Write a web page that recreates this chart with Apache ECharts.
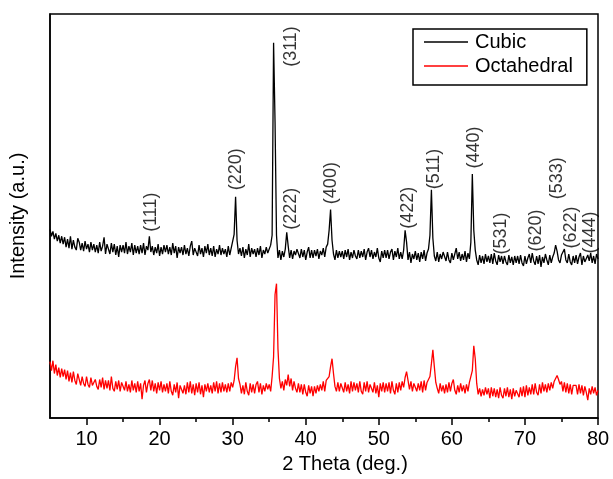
<!DOCTYPE html>
<html>
<head>
<meta charset="utf-8">
<script src="https://cdn.jsdelivr.net/npm/echarts@6/dist/echarts.min.js"></script>
<style>
html,body{margin:0;padding:0;background:#fff;}
#chart{width:613px;height:479px;}
</style>
</head>
<body>
<div id="chart"></div>
<script>
// Sampling grid of the diffractogram (2 theta, degrees)
const angleStart = 5;
const angleStep = 0.2;

// Cubic sample intensity (a.u.), one value per 0.2 deg from 5 to 80
const cubic = [
  191,184,189,181,187,179,185,177,184,176,
  183,173,181,172,184,171,180,173,170,182,
  178,170,177,169,179,171,176,168,178,170,
  176,168,175,167,178,169,174,183,166,176,
  175,166,177,168,176,165,174,163,175,168,
  175,167,178,166,174,168,177,165,175,167,
  174,166,175,167,177,165,174,170,184,168,
  174,165,173,167,176,164,173,166,175,168,
  175,166,173,165,177,167,174,162,173,167,
  173,165,175,166,172,164,174,179,165,172,
  173,164,175,166,172,163,174,167,176,165,
  172,164,174,163,171,166,175,165,172,166,
  171,163,174,165,172,170,186,224,180,166,
  172,164,173,162,171,165,176,163,172,166,
  171,163,172,165,174,162,170,166,173,167,
  168,175,185,380,300,185,162,170,160,169,
  163,171,188,174,162,170,161,169,165,171,
  170,162,171,163,170,160,168,173,162,170,
  162,170,164,171,161,169,165,172,163,173,
  176,190,211,180,166,160,170,162,169,163,
  169,161,170,163,171,160,168,162,170,164,
  161,170,162,169,163,171,160,168,172,163,
  170,161,168,163,172,162,158,169,162,170,
  162,170,161,168,171,160,169,163,172,161,
  168,161,170,190,178,160,168,157,166,161,
  169,160,167,158,168,161,170,159,167,171,
  185,231,182,164,159,168,158,166,161,168,
  167,159,168,160,157,167,160,166,172,161,
  168,159,166,160,169,158,167,161,178,247,
  190,170,160,155,165,157,164,156,166,158,
  164,157,166,156,167,159,155,165,158,164,
  156,164,158,155,165,157,163,155,164,157,
  164,156,165,157,154,164,156,162,166,157,
  167,159,155,164,156,165,153,163,157,166,
  160,155,165,157,163,167,175,169,160,157,
  165,168,171,160,157,166,158,155,164,157,
  165,156,163,167,155,164,158,156,165,159,
  167,157,164,156,166,161
];

// Octahedral sample intensity (a.u.)
const octahedral = [
  57,48,58,45,54,43,51,41,50,42,
  49,39,48,37,46,36,47,38,34,45,
  43,33,42,35,32,42,34,31,41,33,
  36,39,32,29,39,31,41,29,38,30,
  38,28,42,30,27,37,29,38,27,36,
  35,28,37,27,34,26,38,28,35,26,
  37,27,35,19,33,38,26,35,39,28,
  38,27,35,25,36,28,37,26,34,27,
  35,25,37,27,23,34,26,36,20,33,
  35,25,33,24,36,26,37,25,34,23,
  35,26,36,24,33,21,34,27,35,26,
  33,25,36,27,37,25,35,26,36,27,
  34,26,35,27,36,31,38,52,61,40,
  34,25,33,24,36,27,23,35,26,34,
  25,34,37,26,35,24,33,27,35,29,
  34,27,42,62,125,136,70,40,30,37,
  28,39,33,44,32,40,28,37,30,26,
  35,26,34,24,34,26,22,33,25,32,
  22,32,25,33,27,34,28,37,27,38,
  37,42,52,60,45,32,27,36,27,35,
  35,26,36,27,34,25,37,27,36,28,
  35,26,37,27,24,36,27,37,26,34,
  34,26,36,25,33,21,35,27,36,26,
  35,27,36,25,37,28,24,35,26,36,
  28,37,31,41,47,38,29,37,27,35,
  36,27,35,28,37,26,38,28,36,39,
  42,55,69,52,36,30,25,35,27,33,
  25,34,26,36,27,35,39,28,24,33,
  26,35,27,33,25,34,27,36,38,48,
  73,60,35,24,30,22,29,23,31,24,
  30,20,31,22,30,21,29,20,31,23,
  20,30,22,31,21,29,19,30,22,28,
  30,21,31,22,32,21,33,23,31,24,
  34,24,35,26,23,34,25,36,27,34,
  26,35,28,36,30,37,40,43,39,34,
  37,27,36,26,35,25,34,24,33,35,
  33,24,34,25,33,23,32,26,18,30,
  24,32,25,31,23,28
];

// Axis ticks
const xTickValues = [10, 20, 30, 40, 50, 60, 70, 80];
const xMinorTickValues = [15, 25, 35, 45, 55, 65, 75];

// Miller-index labels of the cubic pattern
const peakLabels = ['(111)','(220)','(311)','(222)','(400)','(422)','(511)','(440)','(531)','(620)','(533)','(622)','(444)'];
const peakLabelAngles = [18.86, 30.58, 38.04, 38.04, 43.58, 54.06, 57.67, 63.04, 66.83, 71.62, 74.49, 76.37, 78.95];
const peakLabelBases = [188, 230, 355, 190, 216, 191, 231, 252, 165, 168, 221, 171, 166];

const seriesNames = ['Cubic', 'Octahedral'];

function toPairs(values) {
  return values.map((v, i) => [Math.round((angleStart + i * angleStep) * 10) / 10, v]);
}

const FONT = '"Liberation Sans", Arial, sans-serif';
const chart = echarts.init(document.getElementById('chart'), null, {renderer: 'canvas'});

const option = {
  animation: false,
  textStyle: {fontFamily: FONT, color: '#000'},
  grid: {left: 50, right: 15, top: 14, bottom: 56, show: true, borderColor: '#000', borderWidth: 1.5},
  legend: {
    data: seriesNames,
    orient: 'vertical',
    left: 413,
    top: 29,
    padding: [3, 14, 9, 11],
    itemGap: 4,
    itemWidth: 44,
    itemHeight: 1.5,
    icon: 'rect',
    borderColor: '#000',
    borderWidth: 1.5,
    textStyle: {fontSize: 20, color: '#000', fontFamily: FONT, padding: [0, 0, 0, 2]}
  },
  xAxis: [{
    type: 'value', min: 5, max: 80,
    name: '2 Theta (deg.)', nameLocation: 'middle', nameGap: 36,
    nameTextStyle: {fontSize: 20, color: '#000', fontFamily: FONT, padding: [0, 0, 0, 42]},
    axisLine: {lineStyle: {color: '#000', width: 1.5}},
    axisTick: {show: true, customValues: xTickValues, length: 7, lineStyle: {color: '#000', width: 1.5}},
    axisLabel: {customValues: xTickValues, fontSize: 20, color: '#000', fontFamily: FONT, margin: 11},
    splitLine: {show: false}
  }, {
    type: 'value', min: 5, max: 80, position: 'bottom', gridIndex: 0,
    axisLine: {show: false},
    axisTick: {show: true, customValues: xMinorTickValues, length: 4, lineStyle: {color: '#000', width: 1.5}},
    axisLabel: {show: false},
    splitLine: {show: false}
  }],
  yAxis: {
    type: 'value', min: 0, max: 409,
    name: 'Intensity (a.u.)', nameLocation: 'middle', nameGap: 22,
    nameTextStyle: {fontSize: 20, color: '#000', fontFamily: FONT},
    axisLine: {show: true, lineStyle: {color: '#000', width: 1.5}},
    axisTick: {show: false},
    axisLabel: {show: false},
    splitLine: {show: false}
  },
  series: [{
    name: seriesNames[0], type: 'line', data: toPairs(cubic),
    symbol: 'none', showSymbol: false,
    lineStyle: {color: '#000', width: 1.3}, itemStyle: {color: '#000'}
  }, {
    name: seriesNames[1], type: 'line', data: toPairs(octahedral),
    symbol: 'none', showSymbol: false,
    lineStyle: {color: '#ff0000', width: 1.3}, itemStyle: {color: '#ff0000'}
  }, {
    name: 'labels', type: 'scatter', silent: true,
    symbolSize: 1, itemStyle: {color: 'rgba(0,0,0,0)'},
    data: peakLabels.map((t, i) => ({name: t, value: [peakLabelAngles[i], peakLabelBases[i]]})),
    label: {
      show: true, formatter: '{b}', position: [0, 0], rotate: 90,
      align: 'left', verticalAlign: 'middle',
      fontSize: 18, color: '#000', fontFamily: FONT
    }
  }]
};
chart.setOption(option);
</script>
</body>
</html>
